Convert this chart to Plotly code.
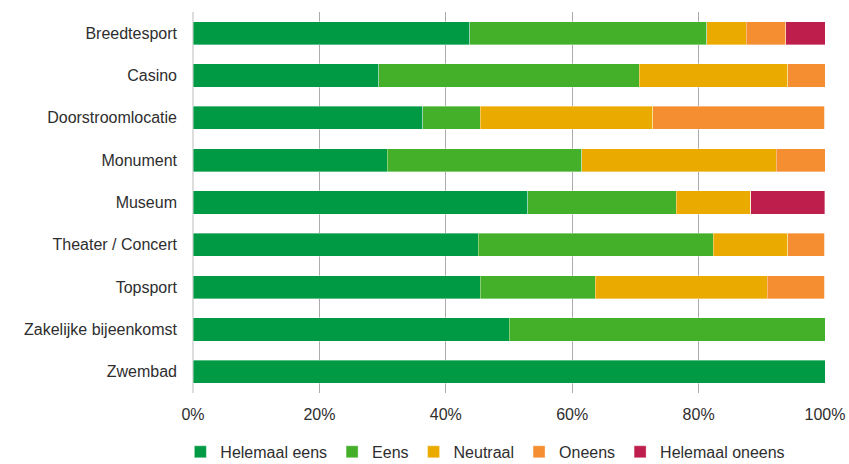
import plotly.graph_objects as go

# Categorieën en aandelen (%)
categories = ["Breedtesport", "Casino", "Doorstroomlocatie", "Monument", "Museum",
              "Theater / Concert", "Topsport", "Zakelijke bijeenkomst", "Zwembad"]

helemaal_eens = [43.75, 29.41, 36.36, 30.77, 52.94, 45.1, 45.45, 50.0, 100.0]
eens = [37.5, 41.18, 9.09, 30.77, 23.53, 37.25, 18.18, 50.0, 0]
neutraal = [6.25, 23.53, 27.27, 30.77, 11.76, 11.76, 27.27, 0, 0]
oneens = [6.25, 5.88, 27.27, 7.69, 0, 5.88, 9.09, 0, 0]
helemaal_oneens = [6.25, 0, 0, 0, 11.76, 0, 0, 0, 0]

series = [
    ("Helemaal eens", helemaal_eens, "#009A44"),
    ("Eens", eens, "#44B02A"),
    ("Neutraal", neutraal, "#EBAA00"),
    ("Oneens", oneens, "#F48E31"),
    ("Helemaal oneens", helemaal_oneens, "#BE1E4B"),
]

fig = go.Figure()
for name, vals, color in series:
    fig.add_trace(go.Bar(
        y=categories, x=vals, name=name, orientation="h",
        marker=dict(color=color, line=dict(color="rgba(255,255,255,0.6)", width=0.6)),
        width=0.55,
    ))

fig.update_layout(
    barmode="stack",
    width=849, height=464,
    margin=dict(l=193, r=24, t=12, b=71, autoexpand=False),
    plot_bgcolor="white", paper_bgcolor="white",
    font=dict(family="Liberation Sans", size=16, color="#2E2E2E"),
    legend=dict(orientation="h", x=-0.02, y=-0.11, xanchor="left", yanchor="top",
                font=dict(size=16), traceorder="normal"),
    showlegend=True,
)

fig.update_xaxes(range=[0, 100], dtick=20, ticksuffix="%", showgrid=True,
                 gridcolor="#ABABAB", gridwidth=1.3, zeroline=True,
                 zerolinecolor="#DDDDDD", zerolinewidth=1.5, ticks="",
                 ticklabelstandoff=10, automargin=False)
fig.update_yaxes(autorange="reversed", ticks="", ticklabelstandoff=15,
                 showgrid=False, automargin=False)

# body-marge weghalen zodat de figuur precies in het venster past
fig.write_html("out.html", config={"displayModeBar": False},
               post_script="document.body.style.margin='0';")
